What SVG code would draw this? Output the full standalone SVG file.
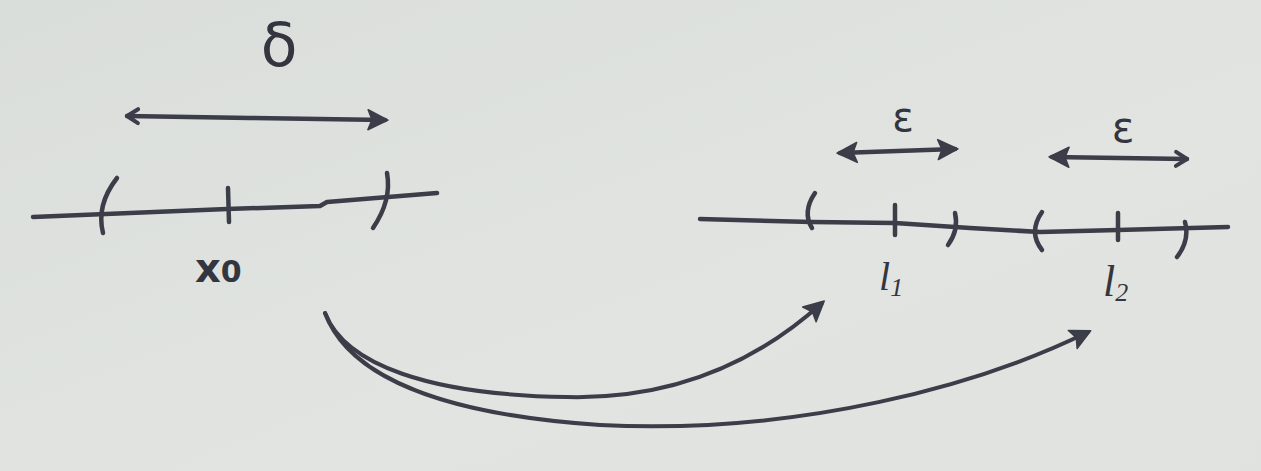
<svg xmlns="http://www.w3.org/2000/svg" width="1261" height="471" viewBox="0 0 1261 471">
<style>
.ink{fill:none;stroke:#3b3d49;stroke-width:4.5;stroke-linecap:round;stroke-linejoin:round}
.thin{stroke-width:4}
.lbl{fill:#34363f;font-family:"DejaVu Sans",sans-serif}
.it{font-family:"Liberation Serif",serif;font-style:italic}
</style>
<defs>
<linearGradient id="paper" x1="0" y1="0" x2="1" y2="1">
<stop offset="0" stop-color="#dadedb"/>
<stop offset="0.6" stop-color="#e1e4e1"/>
<stop offset="1" stop-color="#dfe2df"/>
</linearGradient>
<marker id="tri" markerUnits="userSpaceOnUse" markerWidth="30" markerHeight="30" viewBox="-15 -15 30 30" refX="4" refY="0" orient="auto-start-reverse">
<path d="M-13,-10 L7,0 L-13,10 L-9,0 Z" fill="#3b3d49" stroke="#3b3d49" stroke-width="1.5" stroke-linejoin="round"/>
</marker>
<marker id="vee" markerUnits="userSpaceOnUse" markerWidth="24" markerHeight="24" viewBox="-12 -12 24 24" refX="2" refY="0" orient="auto-start-reverse">
<path d="M-9,-7 L2,0 L-9,7" fill="none" stroke="#3b3d49" stroke-width="4" stroke-linecap="round" stroke-linejoin="round"/>
</marker>
</defs>
<rect width="1261" height="471" fill="url(#paper)"/>

<g id="delta-interval">
<path class="ink" d="M127 116 L250 118 L385 120" marker-start="url(#vee)" marker-end="url(#tri)"/>
<text class="lbl" x="279" y="66" font-size="60" text-anchor="middle">δ</text>
</g>

<g id="domain-line">
<path class="ink" d="M33 217 L227 209 L320 206 L327 202 L437 193"/>
<path class="ink" d="M117 178 Q96 205 103 233"/>
<path class="ink" d="M228 188 L229 222"/>
<path class="ink" d="M387 173 Q392 200 373 228"/>
<text class="lbl" x="195" y="282" font-size="40" font-weight="bold">x<tspan font-size="30">0</tspan></text>
</g>

<g id="epsilon-1">
<path class="ink" d="M840 153 L955 149" marker-start="url(#tri)" marker-end="url(#tri)"/>
<text class="lbl" x="903" y="131" font-size="40" text-anchor="middle">ε</text>
</g>

<g id="epsilon-2">
<path class="ink" d="M1052 157 L1187 159" marker-start="url(#tri)" marker-end="url(#vee)"/>
<text class="lbl" x="1123" y="142" font-size="42" text-anchor="middle">ε</text>
</g>

<g id="range-line">
<path class="ink" d="M700 219 L812 222 L895 223 L970 228 L1040 232 L1118 230 L1228 227"/>
<path class="ink" d="M815 193 Q802 212 812 228"/>
<path class="ink" d="M895 205 L895 235"/>
<path class="ink" d="M955 213 Q959 230 948 245"/>
<path class="ink" d="M1042 212 Q1028 232 1042 250"/>
<path class="ink" d="M1118 213 L1118 240"/>
<path class="ink" d="M1185 222 Q1190 240 1177 257"/>
<text class="lbl it" x="879" y="290" font-size="40">l<tspan font-size="26" dy="6">1</tspan></text>
<text class="lbl it" x="1103" y="296" font-size="44">l<tspan font-size="26" dy="5">2</tspan></text>
</g>

<g id="connectors">
<path class="ink thin" d="M325 313 C345 365 430 395 567 397 C690 400 770 350 822 303" marker-end="url(#tri)"/>
<path class="ink thin" d="M325 313 C350 380 450 415 600 425 C800 435 980 385 1088 332" marker-end="url(#tri)"/>
</g>
</svg>
